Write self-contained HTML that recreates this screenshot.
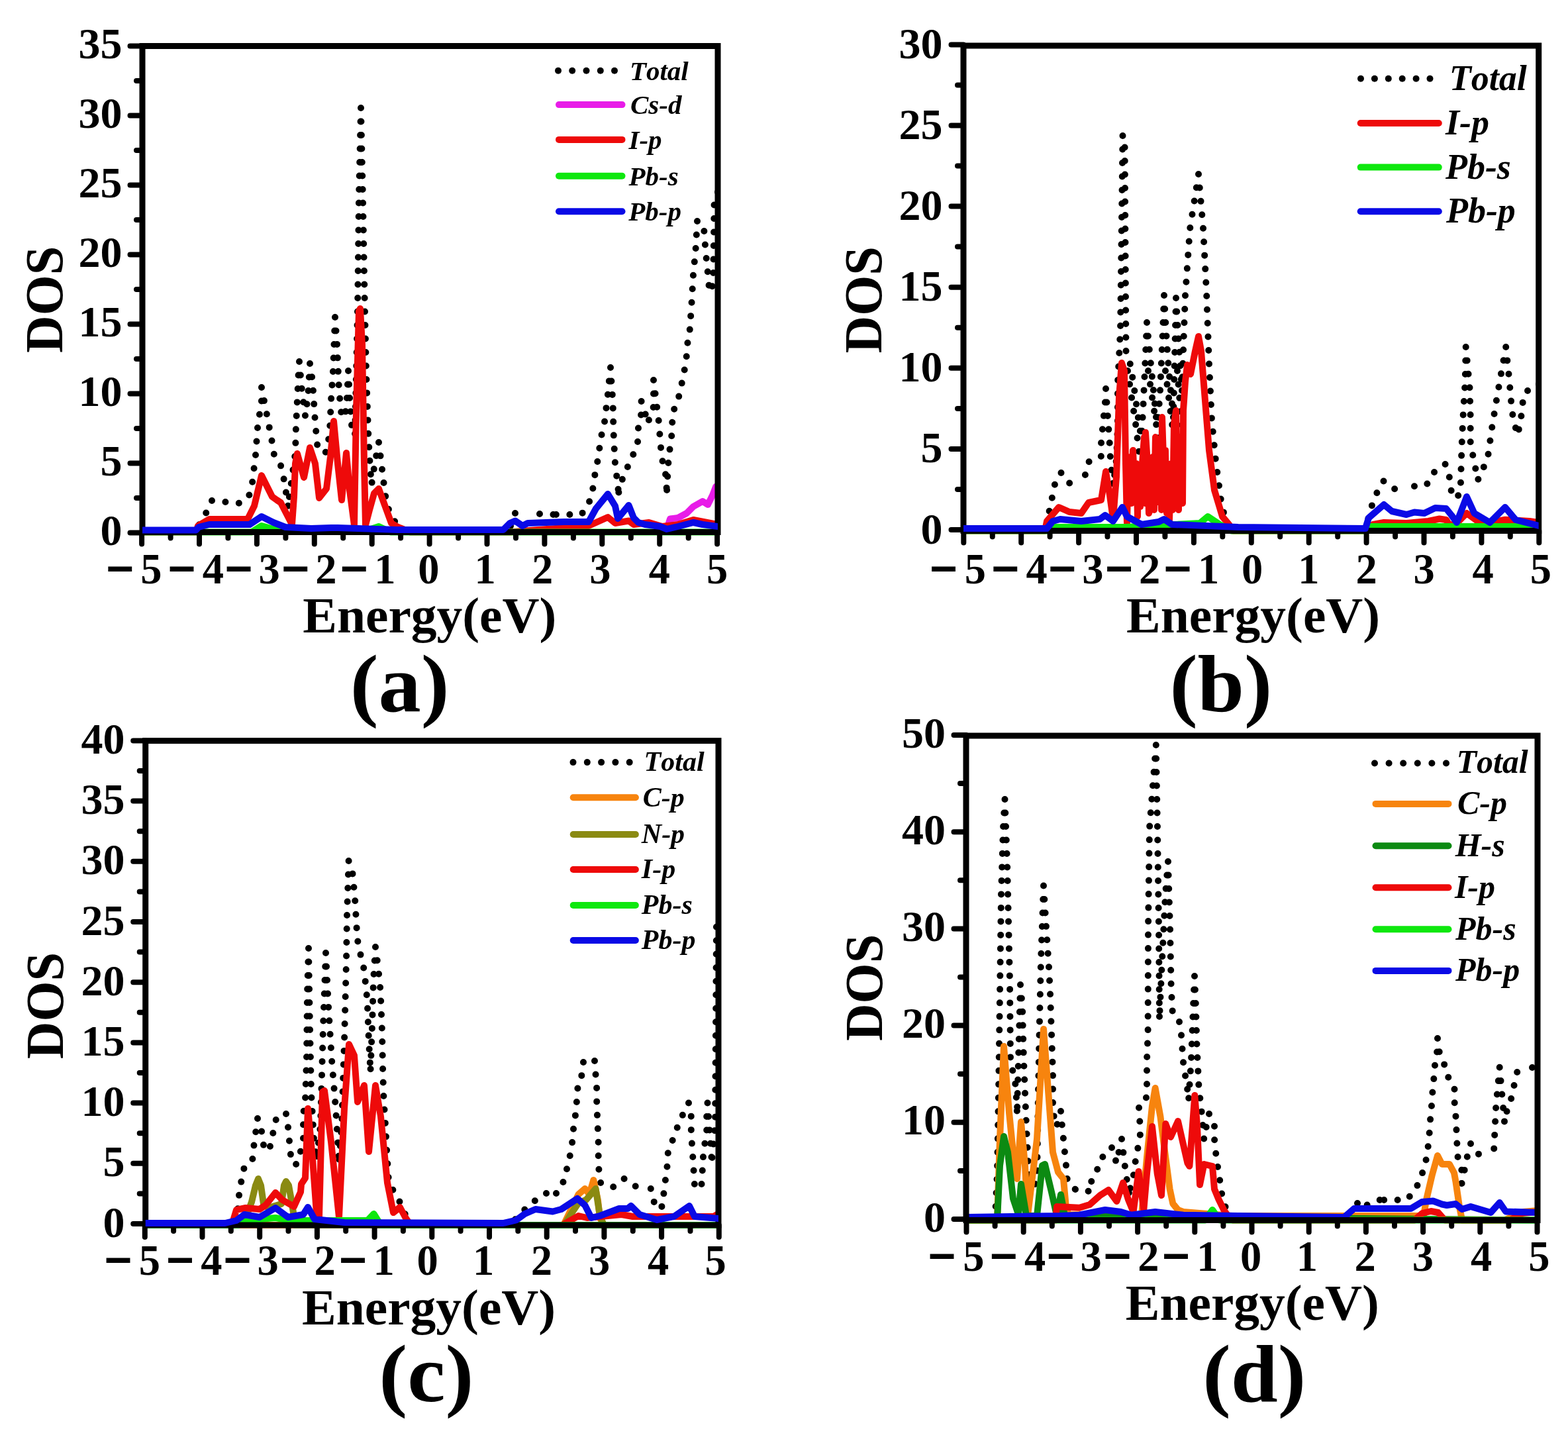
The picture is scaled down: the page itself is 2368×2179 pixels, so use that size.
<!DOCTYPE html>
<html><head><meta charset="utf-8"><title>DOS</title>
<style>
html,body{margin:0;padding:0;background:#fff;}
svg{display:block;}
.mn{stroke:#000;stroke-width:2.4px;}
</style></head>
<body>
<svg xmlns="http://www.w3.org/2000/svg" width="2368" height="2179" viewBox="0 0 2368 2179">
<rect width="2368" height="2179" fill="#fff"/>
<clipPath id="clipa"><rect x="215" y="69.5" width="869" height="740"/></clipPath>
<g clip-path="url(#clipa)" fill="none" stroke-linejoin="round">
<path d="M320,756 L311,775 L301,792 L296,800 M320,756 L341,758 L363,760 M395,585 L395,605 L389,646 L386,687 L381,729 L376,749 L363,760 M395,585 L403,626 L411,668 L414,687 L424,703 L429,725 L432,744 L435,764 M452,546 L451,558 L449,603 L447,643 L446,684 L440,728 L435,764 M452,546 L456,590 L461,628 M468,549 L465,600 L461,628 M468,549 L472,575 L476,638 L480,680 L486,690 M506,479 L503,560 L500,604 L498,650 L494,680 L486,690 M506,479 L509,520 L512,590 L516,630 L520,640 M526,560 L524,600 L520,640 M526,560 L528,600 L532,655 L536,660 M545,163 L542,300 L540,470 L536,660 M545,163 L548,300 L551,470 L553,560 L556,650 L558,690 L561,733 M572,668 L566,700 L561,733 M572,668 L576,700 L579,725 L584,763 L595,786 L605,798" stroke="#000" stroke-width="10" stroke-linecap="round" stroke-dasharray="0 20.5"/>
<path d="M778,775 L770,797 M778,775 L795,779 M815,776 L795,779 M815,776 L837,777 M922,555 L920,574 L918,595 L915.5,616 L913,637 L908,659 L905,679 L902,699 L898,719 L895,740 L889,761 L878,777 L858,777 L837,777 M922,555 L925.6,608 L926.5,651 L928.4,692 L930,713 L934,731 L933,750 M968.6,606 L968.6,624 L964,646 L963,668 L955,690 L945,711 L937,731 L933,750 M968.6,606 L978.6,638 M987,574 L987,614 L978.6,638 M987,574 L994.6,634 L998,676 L1000.5,696 L1005.5,718 L1007,742 M1053,334 L1050.6,376 L1046.8,417 L1044.5,458 L1041.5,501 L1038.5,517 L1036.5,541 L1033,563 L1029,582 L1024,604 L1016,623 L1014,663 L1010.5,685 L1009,703 L1007,742 M1053,334 L1062.7,340 L1065.8,381.7 L1068,402 L1071.8,444.5 M1084,290 L1078.6,304 L1077.9,366 L1077,428 L1071.8,444.5" stroke="#000" stroke-width="10" stroke-linecap="round" stroke-dasharray="0 20.5"/>
<polyline points="1007,799 1012,783.5 1024,782 1037,775 1047,765 1061,757 1069,762 1076,748 1081,735 1084,733" stroke="#e81ce8" stroke-width="10" stroke-linecap="round"/>
<polyline points="215,803.5 296,803.5 299,794 316,784 341,784 374,784 384,764 395,718 411,750 418,755 424,759 441,792 444,750 446,700 449,685 459,721 468,676 476,700 482,752 493,738 499,690 504,636 510,700 516,755 523,684 528,740 535,793 538,620 542,470 544,466 547,520 550,700 552,793 558,770 565,745 572,738 580,760 591,790 601,796 620,803.5 770,803.5 889,794 918,781 929,790 949.5,786.5 957,792 980,789 1000,795 1024,792 1047,785 1073,790 1084,792" stroke="#ee0a0a" stroke-width="10" stroke-linecap="round"/>
<polyline points="215,803.5 296,803.5 380,803.5 395,794 413,799 560,799 572,795 590,803.5 1084,803.5" stroke="#0ee80e" stroke-width="10" stroke-linecap="round"/>
</g>
<rect x="215" y="69.5" width="869" height="734" fill="none" stroke="#000" stroke-width="9"/>
<path d="M215,804.4H196.5M215,751.9H206M215,699.4H196.5M215,646.9H206M215,594.4H196.5M215,541.9H206M215,489.4H196.5M215,436.9H206M215,384.4H196.5M215,331.9H206M215,279.4H196.5M215,226.9H206M215,174.4H196.5M215,121.9H206M215,69.4H196.5M214.1,803.5V821.5M257.6,803.5V812.5M301,803.5V821.5M344.4,803.5V812.5M387.9,803.5V821.5M431.4,803.5V812.5M474.8,803.5V821.5M518.2,803.5V812.5M561.7,803.5V821.5M605.1,803.5V812.5M648.6,803.5V821.5M692.1,803.5V812.5M735.5,803.5V821.5M779,803.5V812.5M822.4,803.5V821.5M865.9,803.5V812.5M909.3,803.5V821.5M952.8,803.5V812.5M996.2,803.5V821.5M1039.7,803.5V812.5M1083.1,803.5V821.5" stroke="#000" stroke-width="8" stroke-linecap="round" fill="none"/>
<g clip-path="url(#clipa)" fill="none" stroke-linejoin="round">
<polyline points="215,800.5 296,800.5 300,796 316,792 377,792 395,780 413,789 431,796 470,798 500,797 510,797 600,800 760,800 770,790 778,786.5 789,794 797,790 852,788 889,788 900,768 918,746 929,764 933,783 949.5,763 957,782 964,789 974,792 997,795 1007,799 1024,795 1047,789 1061,792 1084,795" stroke="#0a0ae6" stroke-width="10" stroke-linecap="round"/>
</g>
<g font-family='"Liberation Serif", "Times New Roman", serif' font-weight="bold" font-size="64.5"><text x="184.4" y="823" text-anchor="end" font-size="66">0</text><text x="184.4" y="718" text-anchor="end" font-size="66">5</text><text x="184.4" y="613" text-anchor="end" font-size="66">10</text><text x="184.4" y="508" text-anchor="end" font-size="66">15</text><text x="184.4" y="403" text-anchor="end" font-size="66">20</text><text x="184.4" y="298" text-anchor="end" font-size="66">25</text><text x="184.4" y="193" text-anchor="end" font-size="66">30</text><text x="184.4" y="88" text-anchor="end" font-size="66">35</text><text x="181.2" y="883.4" text-anchor="middle" class="mn" font-size="72">−</text><text x="274.5" y="883.4" text-anchor="middle" class="mn" font-size="72">−</text><text x="360.4" y="883.4" text-anchor="middle" class="mn" font-size="72">−</text><text x="446.3" y="883.4" text-anchor="middle" class="mn" font-size="72">−</text><text x="534.7" y="883.4" text-anchor="middle" class="mn" font-size="72">−</text><text x="228.4" y="881.4" text-anchor="middle">5</text><text x="321.8" y="881.4" text-anchor="middle">4</text><text x="406.5" y="881.4" text-anchor="middle">3</text><text x="492.4" y="881.4" text-anchor="middle">2</text><text x="581.4" y="881.4" text-anchor="middle">1</text><text x="647.3" y="881.4" text-anchor="middle">0</text><text x="732.6" y="881.4" text-anchor="middle">1</text><text x="819.1" y="881.4" text-anchor="middle">2</text><text x="906.3" y="881.4" text-anchor="middle">3</text><text x="995.9" y="881.4" text-anchor="middle">4</text><text x="1083.1" y="881.4" text-anchor="middle">5</text></g>
<text transform="translate(93.5,452.3) rotate(-90) scale(0.975,1)" text-anchor="middle" font-family='"Liberation Serif", "Times New Roman", serif' font-weight="bold" font-size="80.5">DOS</text>
<text transform="translate(457.2,954.6) scale(1.02,1)" font-family='"Liberation Serif", "Times New Roman", serif' font-weight="bold" font-size="76" class="en">Energy(eV)</text>
<text transform="translate(528.8,1074.3) scale(1.053,1)" font-family='"Liberation Serif", "Times New Roman", serif' font-weight="bold" font-size="122" class="tag">(a)</text>
<circle cx="843" cy="106.7" r="5"/>
<circle cx="864.2" cy="106.7" r="5"/>
<circle cx="885.5" cy="106.7" r="5"/>
<circle cx="906.8" cy="106.7" r="5"/>
<circle cx="928" cy="106.7" r="5"/>
<text x="950.9" y="120.5" font-family='"Liberation Serif", "Times New Roman", serif' font-weight="bold" font-style="italic" font-size="41" style="font-kerning:none">Total</text>
<line x1="844" y1="158.1" x2="939.5" y2="158.1" stroke="#e81ce8" stroke-width="10" stroke-linecap="round"/>
<text x="952" y="171.9" font-family='"Liberation Serif", "Times New Roman", serif' font-weight="bold" font-style="italic" font-size="41" style="font-kerning:none">Cs-d</text>
<line x1="844" y1="210.9" x2="939.5" y2="210.9" stroke="#ee0a0a" stroke-width="10" stroke-linecap="round"/>
<text x="949.5" y="224.7" font-family='"Liberation Serif", "Times New Roman", serif' font-weight="bold" font-style="italic" font-size="41" style="font-kerning:none">I-p</text>
<line x1="844" y1="265.7" x2="939.5" y2="265.7" stroke="#0ee80e" stroke-width="10" stroke-linecap="round"/>
<text x="949.5" y="279.5" font-family='"Liberation Serif", "Times New Roman", serif' font-weight="bold" font-style="italic" font-size="41" style="font-kerning:none">Pb-s</text>
<line x1="844" y1="319.2" x2="939.5" y2="319.2" stroke="#0a0ae6" stroke-width="10" stroke-linecap="round"/>
<text x="949.2" y="333" font-family='"Liberation Serif", "Times New Roman", serif' font-weight="bold" font-style="italic" font-size="41" style="font-kerning:none">Pb-p</text>
<clipPath id="clipb"><rect x="1455" y="69" width="868.7" height="738.5"/></clipPath>
<g clip-path="url(#clipb)" fill="none" stroke-linejoin="round">
<path d="M1602.5,714 L1594.5,725 L1590,744 L1587,764 L1581,784 M1602.5,714 L1613,729 L1633,733 M1670,587 L1669,607 L1667,627 L1665,648 L1663,669 L1663,689 L1645,696 L1640,714 L1633,733 M1670,587 L1676,673 L1677,694 L1679,714 L1681,735 M1695.5,205 L1692,498 L1690,539 L1688,578 L1688,641 L1686,694 L1681,735 M1695.5,205 L1698.5,205 L1700.5,530 L1706,545 L1712,580 L1718,625 L1724,665 M1732,487 L1728,580 L1724,665 M1732,487 L1736,530 L1740,570 L1744,610 L1748,650 M1758,446 L1756,500 L1752,590 L1748,650 M1758,446 L1761,500 L1764,545 L1768,590 L1772,630 M1776,450 L1774,540 L1772,630 M1776,450 L1779,500 L1782,545 L1785,590 M1810,263 L1797,346 L1790,446 L1788,500 L1785,590 M1810,263 L1817,344 L1822,440 L1826,550 L1830,634 L1836,696 L1844,756 L1852,792 L1860,800" stroke="#000" stroke-width="10" stroke-linecap="round" stroke-dasharray="0 20.5"/>
<path d="M1703,560 L1709,600 L1715,640 L1721,690 L1727,720" stroke="#000" stroke-width="10" stroke-linecap="round" stroke-dasharray="0 20.5"/>
<path d="M1734,560 L1740,600 L1746,640 L1752,680 L1758,700" stroke="#000" stroke-width="10" stroke-linecap="round" stroke-dasharray="0 20.5"/>
<path d="M1760,560 L1765,600 L1770,640 L1775,670" stroke="#000" stroke-width="10" stroke-linecap="round" stroke-dasharray="0 20.5"/>
<path d="M1778,560 L1782,610 L1786,650" stroke="#000" stroke-width="10" stroke-linecap="round" stroke-dasharray="0 20.5"/>
<path d="M2089.5,726.5 L2079,745 L2072,763 L2062,799 M2089.5,726.5 L2102,736.5 L2122,745 M2182.6,701 L2166.6,712 L2155,731 L2139,732 L2122,745 M2182.6,701 L2189.3,722 L2191.8,742 L2194,761 M2213.7,524 L2212.6,578 L2210,620 L2208,661 L2206.7,701 L2205.6,743 L2194,761 M2213.7,524 L2219.5,585 L2220.7,629 L2220.7,671 L2225.3,692 L2228.8,710 L2232.3,724 M2274.2,524 L2267.2,563 L2260.2,603 L2253.3,645 L2247.4,687 L2240.5,706 L2232.3,724 M2274.2,524 L2278.8,568 L2282.3,608 L2284.7,629 L2291.6,657 M2324,580 L2315,582 L2301,596 L2296.3,638 L2291.6,657" stroke="#000" stroke-width="10" stroke-linecap="round" stroke-dasharray="0 20.5"/>
<polyline points="1455,801.5 1578,801.5 1581,787 1599,766 1615,773 1633,775 1644,759 1663,755 1670,712 1676,748 1681,784 1686,720 1690,600 1694,548 1698,560 1700,700 1702,790 1704,700 1707,690 1709,760 1711,680 1714,745 1716,700 1718,780 1719,720 1722,765 1725,700 1728,660 1729,760 1730,653 1733,700 1735,775 1738,765 1741,690 1743,770 1745,660 1747,740 1749,758 1752,680 1754,770 1755,630 1758,722 1760,680 1762,775 1763,700 1766,785 1769,700 1771,770 1773,640 1776,620 1778,726 1780,770 1781,660 1784,700 1786,760 1787,620 1790,576 1793,551 1798,565 1805,530 1810,508 1814,530 1818,580 1822,630 1826,680 1834,740 1846,780 1856,792 1862,801.5 1870,801.5 2060,801.5 2073.6,792 2090,789 2124,790 2157,787 2174,783.5 2184,785 2189,793 2200,790 2215,775 2238,791.6 2273,784.7 2310,787 2324,789" stroke="#ee0a0a" stroke-width="10" stroke-linecap="round"/>
<polyline points="1455,801.5 1582,801.5 1590,796 1700,796 1812,790 1824,780 1842,792 1860,801.5 2062,801.5 2070,795 2320,795" stroke="#0ee80e" stroke-width="10" stroke-linecap="round"/>
</g>
<rect x="1455" y="69" width="868.7" height="732.5" fill="none" stroke="#000" stroke-width="9"/>
<path d="M1455,800H1436.5M1455,739H1446M1455,677.9H1436.5M1455,616.9H1446M1455,555.8H1436.5M1455,494.8H1446M1455,433.7H1436.5M1455,372.6H1446M1455,311.6H1436.5M1455,250.5H1446M1455,189.5H1436.5M1455,128.4H1446M1455,67.4H1436.5M1455.3,801.5V819.5M1498.8,801.5V810.5M1542.2,801.5V819.5M1585.6,801.5V810.5M1629.1,801.5V819.5M1672.5,801.5V810.5M1716,801.5V819.5M1759.4,801.5V810.5M1802.9,801.5V819.5M1846.3,801.5V810.5M1889.8,801.5V819.5M1933.2,801.5V810.5M1976.7,801.5V819.5M2020.2,801.5V810.5M2063.6,801.5V819.5M2107.1,801.5V810.5M2150.5,801.5V819.5M2193.9,801.5V810.5M2237.4,801.5V819.5M2280.8,801.5V810.5M2324.3,801.5V819.5" stroke="#000" stroke-width="8" stroke-linecap="round" fill="none"/>
<g clip-path="url(#clipb)" fill="none" stroke-linejoin="round">
<polyline points="1455,798 1581,798 1590,787 1601,784 1633,787 1661,784 1669,778 1681,787 1695,766 1702,780 1724,792 1750,788 1758,784 1770,792 1870,796 2062,798 2067,782 2090,762 2102,772 2124,777 2136,773.5 2151,775 2167.5,767 2184,768 2192,778 2200,789 2215,750 2226.5,775 2250,789 2273,766 2289,785 2324,794" stroke="#0a0ae6" stroke-width="10" stroke-linecap="round"/>
</g>
<g font-family='"Liberation Serif", "Times New Roman", serif' font-weight="bold" font-size="64.5"><text x="1423.4" y="820.5" text-anchor="end" font-size="66">0</text><text x="1423.4" y="698.4" text-anchor="end" font-size="66">5</text><text x="1423.4" y="576.3" text-anchor="end" font-size="66">10</text><text x="1423.4" y="454.2" text-anchor="end" font-size="66">15</text><text x="1423.4" y="332.1" text-anchor="end" font-size="66">20</text><text x="1423.4" y="210" text-anchor="end" font-size="66">25</text><text x="1423.4" y="87.9" text-anchor="end" font-size="66">30</text><text x="1424.9" y="883.2" text-anchor="middle" class="mn" font-size="72">−</text><text x="1518.3" y="883.2" text-anchor="middle" class="mn" font-size="72">−</text><text x="1604.2" y="883.2" text-anchor="middle" class="mn" font-size="72">−</text><text x="1690.1" y="883.2" text-anchor="middle" class="mn" font-size="72">−</text><text x="1778.5" y="883.2" text-anchor="middle" class="mn" font-size="72">−</text><text x="1472.9" y="881.2" text-anchor="middle">5</text><text x="1565.6" y="881.2" text-anchor="middle">4</text><text x="1650.3" y="881.2" text-anchor="middle">3</text><text x="1736.2" y="881.2" text-anchor="middle">2</text><text x="1825.2" y="881.2" text-anchor="middle">1</text><text x="1891.1" y="881.2" text-anchor="middle">0</text><text x="1976.4" y="881.2" text-anchor="middle">1</text><text x="2063.5" y="881.2" text-anchor="middle">2</text><text x="2150.7" y="881.2" text-anchor="middle">3</text><text x="2239.7" y="881.2" text-anchor="middle">4</text><text x="2326.8" y="881.2" text-anchor="middle">5</text></g>
<text transform="translate(1330.7,452.8) rotate(-90) scale(0.975,1)" text-anchor="middle" font-family='"Liberation Serif", "Times New Roman", serif' font-weight="bold" font-size="80.5">DOS</text>
<text transform="translate(1701,954.7) scale(1.02,1)" font-family='"Liberation Serif", "Times New Roman", serif' font-weight="bold" font-size="76" class="en">Energy(eV)</text>
<text transform="translate(1766.4,1074.4) scale(1.039,1)" font-family='"Liberation Serif", "Times New Roman", serif' font-weight="bold" font-size="122" class="tag">(b)</text>
<circle cx="2055" cy="118.7" r="5"/>
<circle cx="2075.9" cy="118.7" r="5"/>
<circle cx="2096.8" cy="118.7" r="5"/>
<circle cx="2117.7" cy="118.7" r="5"/>
<circle cx="2138.6" cy="118.7" r="5"/>
<circle cx="2159.5" cy="118.7" r="5"/>
<text x="2188.7" y="135.8" font-family='"Liberation Serif", "Times New Roman", serif' font-weight="bold" font-style="italic" font-size="54" style="font-kerning:none">Total</text>
<line x1="2054.7" y1="186" x2="2172.8" y2="186" stroke="#ee0a0a" stroke-width="10" stroke-linecap="round"/>
<text x="2182.9" y="203.1" font-family='"Liberation Serif", "Times New Roman", serif' font-weight="bold" font-style="italic" font-size="54" style="font-kerning:none">I-p</text>
<line x1="2054.7" y1="252.6" x2="2172.8" y2="252.6" stroke="#0ee80e" stroke-width="10" stroke-linecap="round"/>
<text x="2182.9" y="269.7" font-family='"Liberation Serif", "Times New Roman", serif' font-weight="bold" font-style="italic" font-size="54" style="font-kerning:none">Pb-s</text>
<line x1="2054.7" y1="319.2" x2="2172.8" y2="319.2" stroke="#0a0ae6" stroke-width="10" stroke-linecap="round"/>
<text x="2183.9" y="336.3" font-family='"Liberation Serif", "Times New Roman", serif' font-weight="bold" font-style="italic" font-size="54" style="font-kerning:none">Pb-p</text>
<clipPath id="clipc"><rect x="219.7" y="1118.6" width="865.3" height="737.4"/></clipPath>
<g clip-path="url(#clipc)" fill="none" stroke-linejoin="round">
<path d="M389,1689 L386,1711 L383,1733 L381,1754 L368,1765 L364,1786 L361,1805 L359,1827 L357,1840 M389,1689 L395,1708 L398,1729 L406,1742 M432,1682 L418,1685 L414,1704 L409,1725 L406,1742 M432,1682 L435,1702 L437,1723 L439,1744 L446,1761 M466,1432 L464,1500 L463,1600 L461,1661 L458,1683 L458,1723 L452.5,1744 L446,1761 M466,1432 L468,1550 L470,1650 L474,1720 L478,1750 M492,1439 L488,1550 L484,1700 L478,1750 M492,1439 L496,1520 L501,1600 L505,1649 L507,1674 L512,1754 M526.6,1300 L524,1383 L523,1450 L520,1572 L516,1700 L512,1754 M526.6,1300 L531.8,1312 L536,1356 L539.6,1418 L544.6,1442 L550,1465 L554.6,1510 L557,1572 L559.5,1617 M567,1430 L564,1480 L562,1550 L559.5,1617 M567,1430 L571,1460 L574.5,1495 L577,1557 L578.2,1619 L579.5,1659 L582,1699 L584.5,1744 L587,1784 L595,1800 L602,1811 L609,1828 L615,1840" stroke="#000" stroke-width="10" stroke-linecap="round" stroke-dasharray="0 20.5"/>
<path d="M825,1802 L808,1813 L794,1825 L779.5,1839 L776,1845 M881,1604 L880,1620 L872.8,1638 L871.2,1660 L869.6,1680 L866.3,1701 L864.7,1721.5 L861.5,1742 L856.6,1763 L851,1784 L841,1802 L825,1802 M898,1602 L890,1604 L881,1604 M898,1602 L899.6,1623 L901.2,1644 L901.2,1664 L902,1685 L902.9,1706 L903.7,1726 L903.7,1747 L904.5,1768 L907,1786 L924,1794 M942.6,1780 L924,1794 M942.6,1780 L958,1790 L968.5,1798 M982.8,1795 L968.5,1798 M982.8,1795 L988,1816 L992,1826 M1040,1665.5 L1030.8,1684 L1023,1702 L1015.3,1723 L1008.8,1741 L1007.5,1761.5 L1004.9,1782 L1002.3,1803 L1001,1821 L992,1826 M1040,1665.5 L1043.8,1686 L1043.8,1707 L1045,1728 L1046.4,1748.5 L1047.7,1769 L1049,1790 L1056.8,1806 M1068.5,1665.5 L1067.2,1686 L1067.2,1707 L1064.6,1725 L1062,1746 L1060.7,1769 L1059.4,1790 L1056.8,1806 M1068.5,1665.5 L1075,1754 M1086,1380 L1082,1390 L1081,1550 L1080,1700 L1075,1754" stroke="#000" stroke-width="10" stroke-linecap="round" stroke-dasharray="0 20.5"/>
<polyline points="357,1850 620,1850 851,1850 873.6,1803.5 883.4,1795 890,1803.5 896.4,1782 902.9,1812 906,1839 912,1850 1086,1850" stroke="#f7840e" stroke-width="10" stroke-linecap="round"/>
<polyline points="357,1850 370,1842 380,1815 386,1790 390,1780 394,1790 398,1818 405,1824 425,1818 429,1790 432,1784 436,1790 441,1818 446,1850 620,1850 852,1850 860.6,1836 873.6,1816.5 885,1812 899.6,1795 906,1836 912,1850 1086,1850" stroke="#8a8a12" stroke-width="10" stroke-linecap="round"/>
<polyline points="219,1850 350,1850 357,1827 371,1824 392,1826 401,1820 416,1801 426.5,1812 444,1822 454,1800 455,1788 461,1779 465,1674 472,1749 478.5,1839 482,1838 487,1649 490,1647 500,1724 512,1838 520,1674 527,1577 535,1594 540,1664 550,1639 557,1739 567,1639 575,1686 585,1786 594,1831 604,1823 612,1838 620,1850 849,1850 873.6,1836 886.6,1839 938.6,1834 955.6,1837 1077.6,1837 1086,1832" stroke="#ee0a0a" stroke-width="10" stroke-linecap="round"/>
<polyline points="219,1850 360,1850 369,1843 416,1839 440,1843 555,1843 564.5,1833 575,1850 1086,1850" stroke="#0ee80e" stroke-width="10" stroke-linecap="round"/>
</g>
<rect x="219.7" y="1118.6" width="865.3" height="731.4" fill="none" stroke="#000" stroke-width="9"/>
<path d="M219.7,1848H201.2M219.7,1802.4H210.7M219.7,1756.8H201.2M219.7,1711.2H210.7M219.7,1665.6H201.2M219.7,1620H210.7M219.7,1574.4H201.2M219.7,1528.8H210.7M219.7,1483.2H201.2M219.7,1437.6H210.7M219.7,1392H201.2M219.7,1346.4H210.7M219.7,1300.8H201.2M219.7,1255.2H210.7M219.7,1209.6H201.2M219.7,1164H210.7M219.7,1118.4H201.2M218.8,1850V1868M262.1,1850V1859M305.5,1850V1868M348.8,1850V1859M392.2,1850V1868M435.5,1850V1859M478.9,1850V1868M522.2,1850V1859M565.6,1850V1868M608.9,1850V1859M652.3,1850V1868M695.6,1850V1859M739,1850V1868M782.3,1850V1859M825.7,1850V1868M869,1850V1859M912.4,1850V1868M955.8,1850V1859M999.1,1850V1868M1042.5,1850V1859M1085.8,1850V1868" stroke="#000" stroke-width="8" stroke-linecap="round" fill="none"/>
<g clip-path="url(#clipc)" fill="none" stroke-linejoin="round">
<polyline points="219,1847 340,1847 357,1843 369,1834 392,1838 416,1824 435,1838 458,1834 465,1823 475,1841 520,1846 760,1847 779.5,1842.5 792.5,1833 808.7,1826 834.7,1829.5 847.7,1826 872,1810 883.4,1820 893,1839 906,1836 935,1825 948,1825 953,1821 966,1834 992,1842 1018,1837 1041,1821 1049,1837 1086,1840" stroke="#0a0ae6" stroke-width="10" stroke-linecap="round"/>
</g>
<g font-family='"Liberation Serif", "Times New Roman", serif' font-weight="bold" font-size="64.5"><text x="188.4" y="1867.6" text-anchor="end" font-size="66">0</text><text x="188.4" y="1776.4" text-anchor="end" font-size="66">5</text><text x="188.4" y="1685.2" text-anchor="end" font-size="66">10</text><text x="188.4" y="1594" text-anchor="end" font-size="66">15</text><text x="188.4" y="1502.8" text-anchor="end" font-size="66">20</text><text x="188.4" y="1411.6" text-anchor="end" font-size="66">25</text><text x="188.4" y="1320.4" text-anchor="end" font-size="66">30</text><text x="188.4" y="1229.2" text-anchor="end" font-size="66">35</text><text x="188.4" y="1138" text-anchor="end" font-size="66">40</text><text x="178.6" y="1927.4" text-anchor="middle" class="mn" font-size="72">−</text><text x="272" y="1927.4" text-anchor="middle" class="mn" font-size="72">−</text><text x="358.5" y="1927.4" text-anchor="middle" class="mn" font-size="72">−</text><text x="443.9" y="1927.4" text-anchor="middle" class="mn" font-size="72">−</text><text x="532.9" y="1927.4" text-anchor="middle" class="mn" font-size="72">−</text><text x="225.9" y="1925.4" text-anchor="middle">5</text><text x="319.3" y="1925.4" text-anchor="middle">4</text><text x="404.6" y="1925.4" text-anchor="middle">3</text><text x="490.5" y="1925.4" text-anchor="middle">2</text><text x="579.5" y="1925.4" text-anchor="middle">1</text><text x="645.5" y="1925.4" text-anchor="middle">0</text><text x="730.1" y="1925.4" text-anchor="middle">1</text><text x="817.9" y="1925.4" text-anchor="middle">2</text><text x="905" y="1925.4" text-anchor="middle">3</text><text x="994" y="1925.4" text-anchor="middle">4</text><text x="1080.6" y="1925.4" text-anchor="middle">5</text></g>
<text transform="translate(95,1518.5) rotate(-90) scale(0.975,1)" text-anchor="middle" font-family='"Liberation Serif", "Times New Roman", serif' font-weight="bold" font-size="80.5">DOS</text>
<text transform="translate(456,1999.7) scale(1.02,1)" font-family='"Liberation Serif", "Times New Roman", serif' font-weight="bold" font-size="76" class="en">Energy(eV)</text>
<text transform="translate(572.3,2115.6) scale(1.056,1)" font-family='"Liberation Serif", "Times New Roman", serif' font-weight="bold" font-size="122" class="tag">(c)</text>
<circle cx="865.5" cy="1151.1" r="5"/>
<circle cx="886.8" cy="1151.1" r="5"/>
<circle cx="908.1" cy="1151.1" r="5"/>
<circle cx="929.4" cy="1151.1" r="5"/>
<circle cx="950.7" cy="1151.1" r="5"/>
<text x="972.6" y="1164.4" font-family='"Liberation Serif", "Times New Roman", serif' font-weight="bold" font-style="italic" font-size="42" style="font-kerning:none">Total</text>
<line x1="865.7" y1="1204.2" x2="959.9" y2="1204.2" stroke="#f7840e" stroke-width="10" stroke-linecap="round"/>
<text x="970.7" y="1217.5" font-family='"Liberation Serif", "Times New Roman", serif' font-weight="bold" font-style="italic" font-size="42" style="font-kerning:none">C-p</text>
<line x1="865.7" y1="1260" x2="959.9" y2="1260" stroke="#8a8a12" stroke-width="10" stroke-linecap="round"/>
<text x="968.8" y="1273.3" font-family='"Liberation Serif", "Times New Roman", serif' font-weight="bold" font-style="italic" font-size="42" style="font-kerning:none">N-p</text>
<line x1="865.7" y1="1313" x2="959.9" y2="1313" stroke="#ee0a0a" stroke-width="10" stroke-linecap="round"/>
<text x="968.8" y="1326.3" font-family='"Liberation Serif", "Times New Roman", serif' font-weight="bold" font-style="italic" font-size="42" style="font-kerning:none">I-p</text>
<line x1="865.7" y1="1367" x2="959.9" y2="1367" stroke="#0ee80e" stroke-width="10" stroke-linecap="round"/>
<text x="968.8" y="1380.3" font-family='"Liberation Serif", "Times New Roman", serif' font-weight="bold" font-style="italic" font-size="42" style="font-kerning:none">Pb-s</text>
<line x1="865.7" y1="1420" x2="959.9" y2="1420" stroke="#0a0ae6" stroke-width="10" stroke-linecap="round"/>
<text x="968.8" y="1433.3" font-family='"Liberation Serif", "Times New Roman", serif' font-weight="bold" font-style="italic" font-size="42" style="font-kerning:none">Pb-p</text>
<clipPath id="clipd"><rect x="1459" y="1111" width="863" height="737.5"/></clipPath>
<g clip-path="url(#clipd)" fill="none" stroke-linejoin="round">
<path d="M1517.5,1207 L1515,1250 L1512,1350 L1510,1500 L1508,1650 L1506,1770 L1503,1838 M1517.5,1207 L1521,1300 L1525,1480 L1526,1600 L1530,1620 L1534,1640 L1536,1680 M1541,1487 L1538,1600 L1536,1680 M1541,1487 L1544,1520 L1546,1600 L1548,1650 L1550,1700 L1552,1740 L1554,1790 L1558,1805 M1576,1337.5 L1572,1450 L1570,1540 L1568,1650 L1566,1780 L1558,1805 M1576,1337.5 L1580,1400 L1584,1460 L1586,1500 L1588,1560 L1590,1620 L1590,1680 L1596,1700 M1602,1678 L1596,1700 M1602,1678 L1604,1700 L1606,1720 L1608,1740 L1610,1760 L1612,1784 L1624,1796 M1624,1796 L1640,1796 L1644,1799 M1679,1733 L1668,1740 L1660,1761 L1650,1778 L1644,1799 M1679,1733 L1686,1756 M1694,1720 L1686,1756 M1694,1720 L1699,1762 L1702,1783 L1705,1802 M1745.8,1125 L1736,1250 L1734,1400 L1733.6,1561 L1732,1601 L1732,1643 L1730.5,1664 L1720,1672 L1721,1690 L1722.6,1709 L1719.5,1728 L1715,1751 L1713,1770 L1705,1802 M1745.8,1125 L1748,1250 L1750,1400 L1751,1537 M1764,1301 L1760,1350 L1755,1450 L1751,1537 M1764,1301 L1767,1400 L1768.7,1492 L1771,1532 L1781,1543 L1784,1563 L1787,1604 L1790,1624 L1793,1643 L1795,1662 M1804,1474 L1802,1520 L1799,1600 L1795,1662 M1804,1474 L1806,1520 L1807.4,1576 L1810.5,1642 L1815,1682 L1818.4,1722 M1826,1682 L1822,1700 L1818.4,1722 M1826,1682 L1834,1700 L1834,1720 L1836,1740 L1839,1762 L1842,1781 L1845,1802 L1850,1821 L1856,1836 L1862,1838" stroke="#000" stroke-width="10" stroke-linecap="round" stroke-dasharray="0 20.5"/>
<path d="M2050,1817 L2046.8,1822 M2050,1817 L2063.6,1820 M2083.7,1812 L2063.6,1820 M2171,1568 L2170,1592 L2166,1614 L2165,1636 L2162.6,1656 L2161.7,1676 L2159.2,1698 L2158.4,1718 L2155.8,1738 L2152.5,1758 L2145.8,1778 L2137.4,1797 L2124,1812 L2103.8,1812 L2083.7,1812 M2171,1568 L2173.8,1589 L2181.4,1608 L2185,1623 L2196.5,1642 L2196.5,1663 L2198.4,1684 L2199.4,1704.5 L2200.3,1725 L2201.3,1746 L2208,1769 L2207,1790 M2221,1727 L2215.5,1748 L2207,1790 M2221,1727 L2226.8,1739 L2242,1748 M2264.7,1611.7 L2262.8,1632.6 L2261,1651.5 L2259,1674 L2257.1,1716 L2256.2,1735 L2242,1748 M2264.7,1611.7 L2272.3,1697 M2291.2,1619 L2287.4,1634.5 L2283.6,1655 L2276,1676 L2272.3,1697 M2291.2,1619 L2300.7,1627 M2314,1612 L2300.7,1627 M2314,1612 L2322,1620" stroke="#000" stroke-width="10" stroke-linecap="round" stroke-dasharray="0 20.5"/>
<polyline points="1460,1842.5 1504,1842.5 1506,1842.5 1510,1720 1516,1580 1524,1680 1530,1740 1536,1780 1542,1694 1548,1760 1552,1836 1566,1720 1576,1554 1584,1660 1590,1740 1598,1770 1606,1780 1610,1824 1614,1834 1724,1836 1732,1748 1740,1670 1744.6,1643 1752.4,1686 1760.3,1748 1766.6,1795.5 1771.3,1817.5 1779,1827 1787,1830 1860,1836 2150,1836 2154,1812 2162.6,1775 2171,1745 2177.7,1758 2189,1758 2196,1771 2198.4,1784 2204,1822 2208,1842.5 2272,1842.5 2300,1830 2322,1828" stroke="#f7840e" stroke-width="10" stroke-linecap="round"/>
<polyline points="1460,1842.5 1506,1842.5 1510,1760 1516,1716 1522,1740 1530,1810 1538,1834 1542,1788 1550,1836 1566,1836 1574,1760 1578,1758 1588,1800 1596,1836 1602,1804 1608,1836 2322,1842.5" stroke="#0c8a12" stroke-width="10" stroke-linecap="round"/>
<polyline points="1460,1842.5 1594,1842.5 1596,1822 1630,1823.7 1645.7,1819 1661.4,1805 1674,1797 1686.5,1814 1696,1786 1703.8,1811 1711.6,1830 1719.5,1769 1727.3,1827 1732,1772 1740,1701 1747.7,1772 1754,1805 1760.3,1697 1768,1717 1779,1693 1793.3,1756 1796.4,1761 1804.3,1654 1808,1700 1812,1789 1818.4,1758 1831,1761 1834,1795.5 1840.4,1811 1848.2,1827 1854.5,1836 1862,1842.5 2136,1842.5 2148,1832 2161,1829 2172,1831 2182,1842.5 2280,1842.5 2300,1832 2322,1830" stroke="#ee0a0a" stroke-width="10" stroke-linecap="round"/>
<polyline points="1460,1842.5 1660,1842.5 1666,1842.5 1820,1842.5 1831,1827 1842,1842.5 2322,1842.5" stroke="#0ee80e" stroke-width="10" stroke-linecap="round"/>
<polyline points="1460,1838 1600,1836 1630,1834.7 1669,1827 1692.8,1830 1708.5,1834.7 1744.6,1830 1787,1834.7 1870,1836 2030,1838 2045,1825 2080,1825 2130.7,1825 2147.4,1815 2164.2,1813.5 2177.7,1818.5 2185,1820 2198.4,1818 2208,1826 2221,1822 2251.4,1831 2264.7,1816 2274,1829.5 2322,1831" stroke="#0a0ae6" stroke-width="10" stroke-linecap="round"/>
</g>
<rect x="1459" y="1111" width="863" height="731.5" fill="none" stroke="#000" stroke-width="9"/>
<path d="M1459,1841H1440.5M1459,1767.9H1450M1459,1694.8H1440.5M1459,1621.7H1450M1459,1548.6H1440.5M1459,1475.5H1450M1459,1402.4H1440.5M1459,1329.3H1450M1459,1256.2H1440.5M1459,1183.1H1450M1459,1110H1440.5M1459.5,1842.5V1860.5M1502.6,1842.5V1851.5M1545.7,1842.5V1860.5M1588.8,1842.5V1851.5M1631.9,1842.5V1860.5M1675,1842.5V1851.5M1718.1,1842.5V1860.5M1761.2,1842.5V1851.5M1804.3,1842.5V1860.5M1847.4,1842.5V1851.5M1890.5,1842.5V1860.5M1933.6,1842.5V1851.5M1976.7,1842.5V1860.5M2019.8,1842.5V1851.5M2062.9,1842.5V1860.5M2106,1842.5V1851.5M2149.1,1842.5V1860.5M2192.2,1842.5V1851.5M2235.3,1842.5V1860.5M2278.4,1842.5V1851.5M2321.5,1842.5V1860.5" stroke="#000" stroke-width="8" stroke-linecap="round" fill="none"/>
<g clip-path="url(#clipd)" fill="none" stroke-linejoin="round">
</g>
<g font-family='"Liberation Serif", "Times New Roman", serif' font-weight="bold" font-size="64.5"><text x="1428" y="1859.6" text-anchor="end" font-size="66">0</text><text x="1428" y="1713.4" text-anchor="end" font-size="66">10</text><text x="1428" y="1567.2" text-anchor="end" font-size="66">20</text><text x="1428" y="1421" text-anchor="end" font-size="66">30</text><text x="1428" y="1274.8" text-anchor="end" font-size="66">40</text><text x="1428" y="1128.6" text-anchor="end" font-size="66">50</text><text x="1422.4" y="1921.2" text-anchor="middle" class="mn" font-size="72">−</text><text x="1515.8" y="1921.2" text-anchor="middle" class="mn" font-size="72">−</text><text x="1601.7" y="1921.2" text-anchor="middle" class="mn" font-size="72">−</text><text x="1687.6" y="1921.2" text-anchor="middle" class="mn" font-size="72">−</text><text x="1776" y="1921.2" text-anchor="middle" class="mn" font-size="72">−</text><text x="1470.3" y="1919.2" text-anchor="middle">5</text><text x="1563.1" y="1919.2" text-anchor="middle">4</text><text x="1647.7" y="1919.2" text-anchor="middle">3</text><text x="1734.3" y="1919.2" text-anchor="middle">2</text><text x="1823.3" y="1919.2" text-anchor="middle">1</text><text x="1889.2" y="1919.2" text-anchor="middle">0</text><text x="1973.9" y="1919.2" text-anchor="middle">1</text><text x="2061.7" y="1919.2" text-anchor="middle">2</text><text x="2148.8" y="1919.2" text-anchor="middle">3</text><text x="2237.2" y="1919.2" text-anchor="middle">4</text><text x="2324.4" y="1919.2" text-anchor="middle">5</text></g>
<text transform="translate(1332,1491.4) rotate(-90) scale(0.975,1)" text-anchor="middle" font-family='"Liberation Serif", "Times New Roman", serif' font-weight="bold" font-size="80.5">DOS</text>
<text transform="translate(1699.7,1993.4) scale(1.02,1)" font-family='"Liberation Serif", "Times New Roman", serif' font-weight="bold" font-size="76" class="en">Energy(eV)</text>
<text transform="translate(1816.2,2115.6) scale(1.046,1)" font-family='"Liberation Serif", "Times New Roman", serif' font-weight="bold" font-size="122" class="tag">(d)</text>
<circle cx="2076" cy="1152.5" r="5"/>
<circle cx="2097.6" cy="1152.5" r="5"/>
<circle cx="2119.2" cy="1152.5" r="5"/>
<circle cx="2140.8" cy="1152.5" r="5"/>
<circle cx="2162.4" cy="1152.5" r="5"/>
<circle cx="2184" cy="1152.5" r="5"/>
<text x="2199.4" y="1166.9" font-family='"Liberation Serif", "Times New Roman", serif' font-weight="bold" font-style="italic" font-size="50" style="font-kerning:none">Total</text>
<line x1="2077.5" y1="1213.9" x2="2187.5" y2="1213.9" stroke="#f7840e" stroke-width="10" stroke-linecap="round"/>
<text x="2200.9" y="1229.4" font-family='"Liberation Serif", "Times New Roman", serif' font-weight="bold" font-style="italic" font-size="50" style="font-kerning:none">C-p</text>
<line x1="2077.5" y1="1277.2" x2="2187.5" y2="1277.2" stroke="#0c8a12" stroke-width="10" stroke-linecap="round"/>
<text x="2197.7" y="1292.7" font-family='"Liberation Serif", "Times New Roman", serif' font-weight="bold" font-style="italic" font-size="50" style="font-kerning:none">H-s</text>
<line x1="2077.5" y1="1340.3" x2="2187.5" y2="1340.3" stroke="#ee0a0a" stroke-width="10" stroke-linecap="round"/>
<text x="2196.9" y="1355.8" font-family='"Liberation Serif", "Times New Roman", serif' font-weight="bold" font-style="italic" font-size="50" style="font-kerning:none">I-p</text>
<line x1="2077.5" y1="1403.3" x2="2187.5" y2="1403.3" stroke="#0ee80e" stroke-width="10" stroke-linecap="round"/>
<text x="2198" y="1418.8" font-family='"Liberation Serif", "Times New Roman", serif' font-weight="bold" font-style="italic" font-size="50" style="font-kerning:none">Pb-s</text>
<line x1="2077.5" y1="1465.9" x2="2187.5" y2="1465.9" stroke="#0a0ae6" stroke-width="10" stroke-linecap="round"/>
<text x="2198" y="1481.4" font-family='"Liberation Serif", "Times New Roman", serif' font-weight="bold" font-style="italic" font-size="50" style="font-kerning:none">Pb-p</text>
</svg>
</body></html>
